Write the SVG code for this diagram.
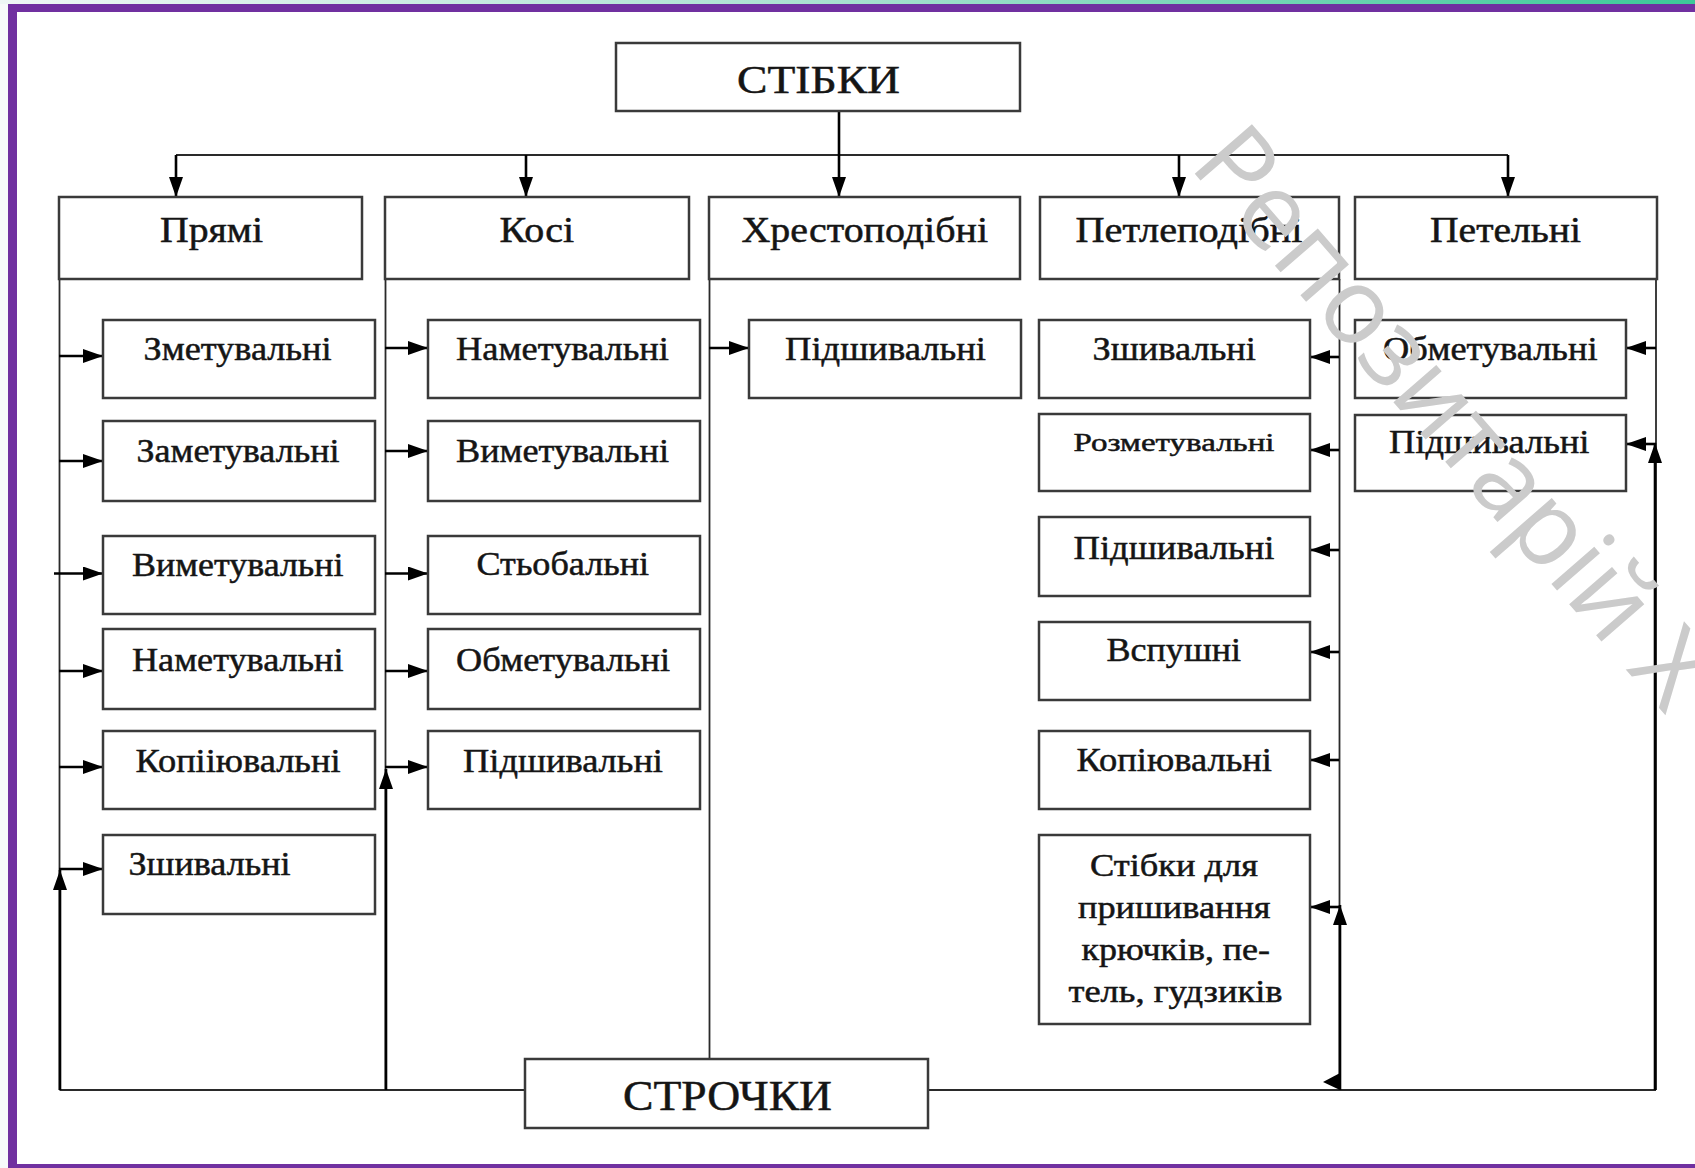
<svg xmlns="http://www.w3.org/2000/svg" width="1695" height="1168" viewBox="0 0 1695 1168">
<defs>
<linearGradient id="topg" x1="0" y1="0" x2="1" y2="0">
<stop offset="0" stop-color="#eef7f5"/>
<stop offset="0.5" stop-color="#a6e0cf"/>
<stop offset="1" stop-color="#3cc898"/>
</linearGradient>
<marker id="arr" viewBox="0 0 20 14" refX="20" refY="7" markerWidth="20" markerHeight="14" markerUnits="userSpaceOnUse" orient="auto">
<path d="M0,0 L20,7 L0,14 z" fill="#000"/>
</marker>
<style>
.box{fill:#fff;stroke:#3a3a3a;stroke-width:2.5}
.t{font-family:"Liberation Serif","Times New Roman",serif;fill:#151515;stroke:#151515;stroke-width:0.5}
.c{font-size:34px}
.h{font-size:35px}
.thin{fill:none;stroke:#2a2a2a;stroke-width:1.8}
.ar{fill:none;stroke:#000;stroke-width:2.6;marker-end:url(#arr)}
.wm{font-family:"Open Sans","Liberation Sans",sans-serif;font-weight:400;font-size:106px;fill:#cbcbcb}
</style>
</defs>
<rect x="0" y="0" width="1695" height="1168" fill="#f7fafa"/>
<rect x="17" y="12" width="1678" height="1152" fill="#fff"/>
<rect x="0" y="0" width="1695" height="4" fill="url(#topg)"/>
<rect x="8" y="4" width="1687" height="8" fill="#7030a0"/>
<rect x="8" y="4" width="9" height="1164" fill="#7030a0"/>
<rect x="8" y="1164" width="1687" height="4" fill="#7030a0"/>

<g id="connectors">
<line class="thin" x1="176" y1="155" x2="1508" y2="155"/>
<line class="ar" x1="839" y1="111" x2="839" y2="197"/>
<line class="ar" x1="176" y1="155" x2="176" y2="197"/>
<line class="ar" x1="526" y1="155" x2="526" y2="197"/>
<line class="ar" x1="1179" y1="155" x2="1179" y2="197"/>
<line class="ar" x1="1508" y1="155" x2="1508" y2="197"/>
<line class="thin" x1="59.5" y1="279" x2="59.5" y2="1090"/>
<line class="thin" x1="385.5" y1="279" x2="385.5" y2="1090"/>
<line class="thin" x1="709.5" y1="279" x2="709.5" y2="1059"/>
<line class="thin" x1="1339.5" y1="279" x2="1339.5" y2="1090"/>
<line class="thin" x1="1656" y1="279" x2="1656" y2="1090"/>
<line class="thin" x1="59.5" y1="1090" x2="1656" y2="1090"/>
<line class="ar" x1="59" y1="356" x2="103" y2="356"/>
<line class="ar" x1="59" y1="461" x2="103" y2="461"/>
<line class="ar" x1="54" y1="573.5" x2="103" y2="573.5"/>
<line class="ar" x1="59" y1="671" x2="103" y2="671"/>
<line class="ar" x1="59" y1="767" x2="103" y2="767"/>
<line class="ar" x1="59" y1="869" x2="103" y2="869"/>
<line class="ar" x1="385" y1="348" x2="428" y2="348"/>
<line class="ar" x1="385" y1="451" x2="428" y2="451"/>
<line class="ar" x1="385" y1="573.5" x2="428" y2="573.5"/>
<line class="ar" x1="385" y1="671" x2="428" y2="671"/>
<line class="ar" x1="385" y1="767" x2="428" y2="767"/>
<line class="ar" x1="709" y1="348" x2="749" y2="348"/>
<line class="ar" x1="1339" y1="357" x2="1310" y2="357"/>
<line class="ar" x1="1339" y1="450" x2="1310" y2="450"/>
<line class="ar" x1="1339" y1="550" x2="1310" y2="550"/>
<line class="ar" x1="1339" y1="652" x2="1310" y2="652"/>
<line class="ar" x1="1339" y1="760" x2="1310" y2="760"/>
<line class="ar" x1="1339" y1="907" x2="1310" y2="907"/>
<line class="ar" x1="1656" y1="348" x2="1626" y2="348"/>
<line class="ar" x1="1656" y1="444" x2="1626" y2="444"/>
<line class="ar" x1="60" y1="1090" x2="60" y2="870"/>
<line class="ar" x1="386" y1="1090" x2="386" y2="769"/>
<line class="ar" x1="1340" y1="1090" x2="1340" y2="905"/>
<line class="ar" x1="1655" y1="1090" x2="1655" y2="443"/>
<path d="M1323,1082 L1340,1073 L1340,1090 z" fill="#000"/>
</g>

<g id="n-stibky"><rect class="box" x="616" y="43" width="404" height="68"/><text class="t" x="737" y="93" font-size="40" textLength="163" lengthAdjust="spacingAndGlyphs">СТІБКИ</text></g>

<g id="n-priami"><rect class="box" x="59" y="197" width="303" height="82"/><text class="t h" x="160" y="242" textLength="103" lengthAdjust="spacingAndGlyphs">Прямі</text></g>
<g id="n-kosi"><rect class="box" x="385" y="197" width="304" height="82"/><text class="t h" x="499.5" y="242" textLength="74.5" lengthAdjust="spacingAndGlyphs">Косі</text></g>
<g id="n-khrest"><rect class="box" x="709" y="197" width="311" height="82"/><text class="t h" x="741.5" y="242" textLength="246.5" lengthAdjust="spacingAndGlyphs">Хрестоподібні</text></g>
<g id="n-petlep"><rect class="box" x="1040" y="197" width="299" height="82"/><text class="t h" x="1075.5" y="242" textLength="227" lengthAdjust="spacingAndGlyphs">Петлеподібні</text></g>
<g id="n-petelni"><rect class="box" x="1355" y="197" width="302" height="82"/><text class="t h" x="1430" y="242" textLength="151" lengthAdjust="spacingAndGlyphs">Петельні</text></g>

<g id="n-p1"><rect class="box" x="103" y="320" width="272" height="78"/><text class="t c" x="143.5" y="360" textLength="188" lengthAdjust="spacingAndGlyphs">Зметувальні</text></g>
<g id="n-p2"><rect class="box" x="103" y="421" width="272" height="80"/><text class="t c" x="136.5" y="462" textLength="203" lengthAdjust="spacingAndGlyphs">Заметувальні</text></g>
<g id="n-p3"><rect class="box" x="103" y="536" width="272" height="78"/><text class="t c" x="132" y="576" textLength="211.5" lengthAdjust="spacingAndGlyphs">Виметувальні</text></g>
<g id="n-p4"><rect class="box" x="103" y="629" width="272" height="80"/><text class="t c" x="132" y="671" textLength="211.5" lengthAdjust="spacingAndGlyphs">Наметувальні</text></g>
<g id="n-p5"><rect class="box" x="103" y="731" width="272" height="78"/><text class="t c" x="135.5" y="772" textLength="205" lengthAdjust="spacingAndGlyphs">Копііювальні</text></g>
<g id="n-p6"><rect class="box" x="103" y="835" width="272" height="79"/><text class="t c" x="128.5" y="875" textLength="162" lengthAdjust="spacingAndGlyphs">Зшивальні</text></g>

<g id="n-k1"><rect class="box" x="428" y="320" width="272" height="78"/><text class="t c" x="456" y="360" textLength="213" lengthAdjust="spacingAndGlyphs">Наметувальні</text></g>
<g id="n-k2"><rect class="box" x="428" y="421" width="272" height="80"/><text class="t c" x="456" y="462" textLength="213" lengthAdjust="spacingAndGlyphs">Виметувальні</text></g>
<g id="n-k3"><rect class="box" x="428" y="536" width="272" height="78"/><text class="t c" x="476.5" y="575" textLength="172.5" lengthAdjust="spacingAndGlyphs">Стьобальні</text></g>
<g id="n-k4"><rect class="box" x="428" y="629" width="272" height="80"/><text class="t c" x="456" y="671" textLength="214" lengthAdjust="spacingAndGlyphs">Обметувальні</text></g>
<g id="n-k5"><rect class="box" x="428" y="731" width="272" height="78"/><text class="t c" x="463" y="772" textLength="200" lengthAdjust="spacingAndGlyphs">Підшивальні</text></g>

<g id="n-x1"><rect class="box" x="749" y="320" width="272" height="78"/><text class="t c" x="785" y="360" textLength="201" lengthAdjust="spacingAndGlyphs">Підшивальні</text></g>

<g id="n-l1"><rect class="box" x="1039" y="320" width="271" height="78"/><text class="t c" x="1092.5" y="360" textLength="163.5" lengthAdjust="spacingAndGlyphs">Зшивальні</text></g>
<g id="n-l2"><rect class="box" x="1039" y="414" width="271" height="77"/><text class="t" font-size="26" x="1073.5" y="451" textLength="201" lengthAdjust="spacingAndGlyphs">Розметувальні</text></g>
<g id="n-l3"><rect class="box" x="1039" y="517" width="271" height="79"/><text class="t c" x="1073.5" y="558.5" textLength="201" lengthAdjust="spacingAndGlyphs">Підшивальні</text></g>
<g id="n-l4"><rect class="box" x="1039" y="622" width="271" height="78"/><text class="t c" x="1106.5" y="660.5" textLength="134.5" lengthAdjust="spacingAndGlyphs">Вспушні</text></g>
<g id="n-l5"><rect class="box" x="1039" y="731" width="271" height="78"/><text class="t c" x="1076.5" y="771" textLength="195.5" lengthAdjust="spacingAndGlyphs">Копіювальні</text></g>
<g id="n-l6"><rect class="box" x="1039" y="835" width="271" height="189"/>
<text class="t" font-size="31" x="1090" y="876" textLength="168" lengthAdjust="spacingAndGlyphs">Стібки для</text>
<text class="t" font-size="31" x="1078" y="918" textLength="192.5" lengthAdjust="spacingAndGlyphs">пришивання</text>
<text class="t" font-size="31" x="1081.5" y="960" textLength="188.5" lengthAdjust="spacingAndGlyphs">крючків, пе-</text>
<text class="t" font-size="31" x="1068.5" y="1002" textLength="214" lengthAdjust="spacingAndGlyphs">тель, гудзиків</text></g>

<g id="n-e1"><rect class="box" x="1355" y="320" width="271" height="78"/><text class="t c" x="1383" y="360" textLength="214.5" lengthAdjust="spacingAndGlyphs">Обметувальні</text></g>
<g id="n-e2"><rect class="box" x="1355" y="415" width="271" height="76"/><text class="t c" x="1389" y="453" textLength="200.5" lengthAdjust="spacingAndGlyphs">Підшивальні</text></g>

<g id="n-strochky"><rect class="box" x="525" y="1059" width="403" height="69"/><text class="t" x="623" y="1110" font-size="42" textLength="209" lengthAdjust="spacingAndGlyphs">СТРОЧКИ</text></g>

<text class="wm" transform="translate(1188,166) rotate(49)">Репозитарій Х</text>
</svg>
